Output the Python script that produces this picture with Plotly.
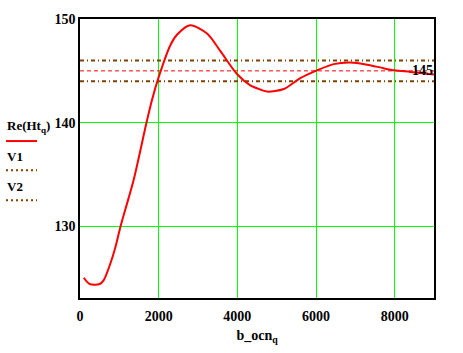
import plotly.graph_objects as go

# Data
x_vals = [94, 246, 500, 600, 770, 900, 1030, 1150, 1365, 1690, 1830, 2000, 2300, 2470,
          2800, 3230, 3570, 3990, 4330, 4585, 4755, 5180, 5600, 6025, 6450, 6870, 7300,
          7720, 8000, 8400, 9000]
re_ht = [125.05, 124.45, 124.45, 124.8, 126.4, 128.0, 130.0, 131.6, 134.5, 140.0, 142.2,
         144.4, 147.5, 148.5, 149.4, 148.6, 146.9, 144.7, 143.6, 143.2, 143.0, 143.25,
         144.3, 145.05, 145.65, 145.8, 145.6, 145.25, 145.05, 144.9, 144.65]
v1 = 146
v2 = 144
marker_y = 145
x_span = [0, 9000]
x_ticks = [0, 2000, 4000, 6000, 8000]
y_ticks = [130, 140, 150]

FONT = "Liberation Serif"
BROWN = "#804000"

fig = go.Figure()
fig.add_trace(go.Scatter(x=x_span, y=[marker_y, marker_y], mode="lines",
                         line=dict(color="red", width=1, dash="4px,3px"), hoverinfo="skip"))
fig.add_trace(go.Scatter(x=x_span, y=[v1, v1], mode="lines",
                         line=dict(color=BROWN, width=2, dash="4px,3px,1px,3px")))
fig.add_trace(go.Scatter(x=x_span, y=[v2, v2], mode="lines",
                         line=dict(color=BROWN, width=2, dash="4px,3px,1px,3px")))
fig.add_trace(go.Scatter(x=x_vals, y=re_ht, mode="lines",
                         line=dict(color="red", width=2, shape="spline", smoothing=0.8)))

fig.add_annotation(x=8700, y=marker_y, text="<b>145</b>", showarrow=False,
                   font=dict(family=FONT, size=14, color="black"))

# Legend (text above line sample, left of plot)
W, H = 354, 288
def px(x):
    return (x - 80) / W
def py(y):
    return (305 - y) / H

legend_items = [("Re(Ht<sub>q</sub>)", 128, 143, "red", "solid"),
                ("V1", 159, 173, BROWN, "2px,3px"),
                ("V2", 190, 204, BROWN, "2px,3px")]
for txt, ty, ly, col, dash in legend_items:
    fig.add_annotation(xref="paper", yref="paper", x=px(5), y=py(ty), xanchor="left",
                       yanchor="middle", text="<b>" + txt + "</b>", showarrow=False,
                       font=dict(family=FONT, size=13, color="black"))
    fig.add_shape(type="line", xref="paper", yref="paper", x0=px(6), x1=px(37),
                  y0=py(ly), y1=py(ly), line=dict(color=col, width=2, dash=dash))

fig.update_layout(
    width=463, height=353,
    margin=dict(l=80, r=29, t=17, b=48),
    paper_bgcolor="white", plot_bgcolor="white",
    showlegend=False,
    font=dict(family=FONT, size=13, color="black"),
)
fig.update_xaxes(range=[0, 9000], tickvals=x_ticks,
                 ticktext=["<b>%d</b>" % t for t in x_ticks],
                 showgrid=True, gridcolor="#00ff00", gridwidth=1, zeroline=False,
                 showline=True, linecolor="black", linewidth=1.5, mirror=True,
                 ticks="", ticklabelstandoff=4, tickfont=dict(family=FONT, size=14),
                 title=dict(text="<b>b_ocn<sub>q</sub></b>", font=dict(family=FONT, size=14),
                            standoff=8))
fig.update_yaxes(range=[123.1, 150], tickvals=y_ticks,
                 ticktext=["<b>%d</b>" % t for t in y_ticks],
                 showgrid=True, gridcolor="#00ff00", gridwidth=1, zeroline=False,
                 showline=True, linecolor="black", linewidth=1.5, mirror=True,
                 ticks="", ticklabelstandoff=0, tickfont=dict(family=FONT, size=14))

fig.write_html("out.html")
